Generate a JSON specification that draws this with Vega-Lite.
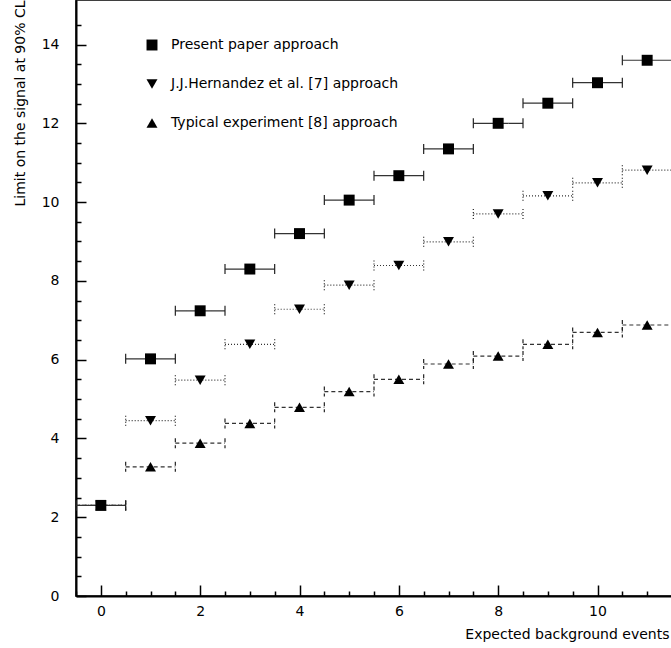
{
  "$schema": "https://vega.github.io/schema/vega-lite/v6.json",
  "width": 596,
  "height": 596,
  "autosize": {"type": "none"},
  "padding": {"left": 76, "top": 0, "right": 0, "bottom": 52},
  "background": "white",
  "config": {
    "font": "DejaVu Sans",
    "view": {"stroke": "black", "strokeWidth": 1.5}
  },
  "data": {
    "values": [
      {"n": 0, "lo": -0.5, "hi": 0.5, "limit": 2.30, "method": "J.J.Hernandez et al. [7] approach"},
      {"n": 1, "lo": 0.5, "hi": 1.5, "limit": 4.45, "method": "J.J.Hernandez et al. [7] approach"},
      {"n": 2, "lo": 1.5, "hi": 2.5, "limit": 5.48, "method": "J.J.Hernandez et al. [7] approach"},
      {"n": 3, "lo": 2.5, "hi": 3.5, "limit": 6.39, "method": "J.J.Hernandez et al. [7] approach"},
      {"n": 4, "lo": 3.5, "hi": 4.5, "limit": 7.28, "method": "J.J.Hernandez et al. [7] approach"},
      {"n": 5, "lo": 4.5, "hi": 5.5, "limit": 7.89, "method": "J.J.Hernandez et al. [7] approach"},
      {"n": 6, "lo": 5.5, "hi": 6.5, "limit": 8.39, "method": "J.J.Hernandez et al. [7] approach"},
      {"n": 7, "lo": 6.5, "hi": 7.5, "limit": 8.99, "method": "J.J.Hernandez et al. [7] approach"},
      {"n": 8, "lo": 7.5, "hi": 8.5, "limit": 9.70, "method": "J.J.Hernandez et al. [7] approach"},
      {"n": 9, "lo": 8.5, "hi": 9.5, "limit": 10.16, "method": "J.J.Hernandez et al. [7] approach"},
      {"n": 10, "lo": 9.5, "hi": 10.5, "limit": 10.49, "method": "J.J.Hernandez et al. [7] approach"},
      {"n": 11, "lo": 10.5, "hi": 11.5, "limit": 10.81, "method": "J.J.Hernandez et al. [7] approach"},
      {"n": 0, "lo": -0.5, "hi": 0.5, "limit": 2.30, "method": "Typical experiment [8] approach"},
      {"n": 1, "lo": 0.5, "hi": 1.5, "limit": 3.28, "method": "Typical experiment [8] approach"},
      {"n": 2, "lo": 1.5, "hi": 2.5, "limit": 3.88, "method": "Typical experiment [8] approach"},
      {"n": 3, "lo": 2.5, "hi": 3.5, "limit": 4.38, "method": "Typical experiment [8] approach"},
      {"n": 4, "lo": 3.5, "hi": 4.5, "limit": 4.79, "method": "Typical experiment [8] approach"},
      {"n": 5, "lo": 4.5, "hi": 5.5, "limit": 5.19, "method": "Typical experiment [8] approach"},
      {"n": 6, "lo": 5.5, "hi": 6.5, "limit": 5.50, "method": "Typical experiment [8] approach"},
      {"n": 7, "lo": 6.5, "hi": 7.5, "limit": 5.89, "method": "Typical experiment [8] approach"},
      {"n": 8, "lo": 7.5, "hi": 8.5, "limit": 6.09, "method": "Typical experiment [8] approach"},
      {"n": 9, "lo": 8.5, "hi": 9.5, "limit": 6.39, "method": "Typical experiment [8] approach"},
      {"n": 10, "lo": 9.5, "hi": 10.5, "limit": 6.69, "method": "Typical experiment [8] approach"},
      {"n": 11, "lo": 10.5, "hi": 11.5, "limit": 6.88, "method": "Typical experiment [8] approach"},
      {"n": 0, "lo": -0.5, "hi": 0.5, "limit": 2.30, "method": "Present paper approach"},
      {"n": 1, "lo": 0.5, "hi": 1.5, "limit": 6.02, "method": "Present paper approach"},
      {"n": 2, "lo": 1.5, "hi": 2.5, "limit": 7.24, "method": "Present paper approach"},
      {"n": 3, "lo": 2.5, "hi": 3.5, "limit": 8.30, "method": "Present paper approach"},
      {"n": 4, "lo": 3.5, "hi": 4.5, "limit": 9.20, "method": "Present paper approach"},
      {"n": 5, "lo": 4.5, "hi": 5.5, "limit": 10.05, "method": "Present paper approach"},
      {"n": 6, "lo": 5.5, "hi": 6.5, "limit": 10.67, "method": "Present paper approach"},
      {"n": 7, "lo": 6.5, "hi": 7.5, "limit": 11.35, "method": "Present paper approach"},
      {"n": 8, "lo": 7.5, "hi": 8.5, "limit": 12.00, "method": "Present paper approach"},
      {"n": 9, "lo": 8.5, "hi": 9.5, "limit": 12.51, "method": "Present paper approach"},
      {"n": 10, "lo": 9.5, "hi": 10.5, "limit": 13.03, "method": "Present paper approach"},
      {"n": 11, "lo": 10.5, "hi": 11.5, "limit": 13.60, "method": "Present paper approach"}
    ]
  },
  "layer": [
    {
      "mark": {"type": "rule", "stroke": "#333", "strokeWidth": 1.2},
      "encoding": {
        "x": {
          "field": "lo", "type": "quantitative",
          "scale": {"domain": [-0.5, 11.5], "nice": false, "zero": false},
          "axis": {
            "title": "Expected background events",
            "values": [-0.5, 0, 0.5, 1, 1.5, 2, 2.5, 3, 3.5, 4, 4.5, 5, 5.5, 6, 6.5, 7, 7.5, 8, 8.5, 9, 9.5, 10, 10.5, 11, 11.5],
            "tickCount": 100,
            "labelExpr": "datum.value % 2 === 0 ? format(datum.value, 'd') : ''",
            "labelOverlap": false,
            "tickSize": {"condition": {"test": "datum.value % 2 === 0", "value": -11}, "value": -5},
            "labelPadding": 19,
            "grid": false,
            "domainColor": "black", "domainWidth": 2,
            "tickColor": "black", "tickWidth": 1.5,
            "labelFontSize": 14, "labelColor": "black", "labelFont": "DejaVu Sans",
            "titleFontSize": 14, "titleFontWeight": "normal", "titleColor": "black", "titleFont": "DejaVu Sans",
            "titleAnchor": "end", "titleAlign": "right", "titleBaseline": "alphabetic",
            "titleX": 593, "titleY": 42
          }
        },
        "x2": {"field": "hi"},
        "y": {
          "field": "limit", "type": "quantitative",
          "scale": {"domain": [0, 15.13], "nice": false, "zero": false},
          "axis": {
            "title": "Limit on the signal at 90% CL",
            "values": [0, 0.5, 1, 1.5, 2, 2.5, 3, 3.5, 4, 4.5, 5, 5.5, 6, 6.5, 7, 7.5, 8, 8.5, 9, 9.5, 10, 10.5, 11, 11.5, 12, 12.5, 13, 13.5, 14, 14.5],
            "tickCount": 100,
            "labelExpr": "datum.value % 2 === 0 ? format(datum.value, 'd') : ''",
            "labelOverlap": false,
            "tickSize": {"condition": {"test": "datum.value % 2 === 0", "value": -10}, "value": -5},
            "labelPadding": 27,
            "grid": false,
            "domainColor": "black", "domainWidth": 2,
            "tickColor": "black", "tickWidth": 1.5,
            "labelFontSize": 14, "labelColor": "black", "labelFont": "DejaVu Sans",
            "titleFontSize": 14, "titleFontWeight": "normal", "titleColor": "black", "titleFont": "DejaVu Sans",
            "titleAngle": -90, "titleAnchor": "end", "titleAlign": "right", "titleBaseline": "middle",
            "titleX": -56, "titleY": 0
          }
        },
        "strokeDash": {
          "condition": [
            {"test": "datum.method === 'J.J.Hernandez et al. [7] approach'", "value": [1, 2]},
            {"test": "datum.method === 'Typical experiment [8] approach'", "value": [4, 3]}
          ],
          "value": [1, 0]
        }
      }
    },
    {
      "mark": {"type": "rule", "stroke": "#222", "strokeWidth": 1.2, "yOffset": -5, "y2Offset": 5},
      "encoding": {
        "x": {"field": "lo", "type": "quantitative"},
        "y": {"field": "limit", "type": "quantitative"},
        "y2": {"field": "limit"},
        "strokeDash": {
          "condition": [
            {"test": "datum.method === 'J.J.Hernandez et al. [7] approach'", "value": [1, 2]},
            {"test": "datum.method === 'Typical experiment [8] approach'", "value": [4, 3]}
          ],
          "value": [1, 0]
        }
      }
    },
    {
      "mark": {"type": "rule", "stroke": "#222", "strokeWidth": 1.2, "yOffset": -5, "y2Offset": 5},
      "encoding": {
        "x": {"field": "hi", "type": "quantitative"},
        "y": {"field": "limit", "type": "quantitative"},
        "y2": {"field": "limit"},
        "strokeDash": {
          "condition": [
            {"test": "datum.method === 'J.J.Hernandez et al. [7] approach'", "value": [1, 2]},
            {"test": "datum.method === 'Typical experiment [8] approach'", "value": [4, 3]}
          ],
          "value": [1, 0]
        }
      }
    },
    {
      "mark": {"type": "point", "filled": true, "opacity": 1, "color": "black", "size": 120},
      "encoding": {
        "x": {"field": "n", "type": "quantitative"},
        "y": {"field": "limit", "type": "quantitative"},
        "shape": {
          "field": "method", "type": "nominal",
          "scale": {
            "domain": ["Present paper approach", "J.J.Hernandez et al. [7] approach", "Typical experiment [8] approach"],
            "range": ["square", "triangle-down", "triangle-up"]
          },
          "legend": {
            "title": null,
            "orient": "none",
            "legendX": 69,
            "legendY": 38,
            "padding": 0,
            "symbolSize": 120,
            "symbolFillColor": "black",
            "symbolStrokeWidth": 0,
            "symbolOpacity": 1,
            "labelFontSize": 14,
            "labelFont": "DejaVu Sans",
            "labelColor": "black",
            "labelLimit": 400,
            "labelOffset": 12,
            "rowPadding": 25
          }
        }
      }
    }
  ]
}
